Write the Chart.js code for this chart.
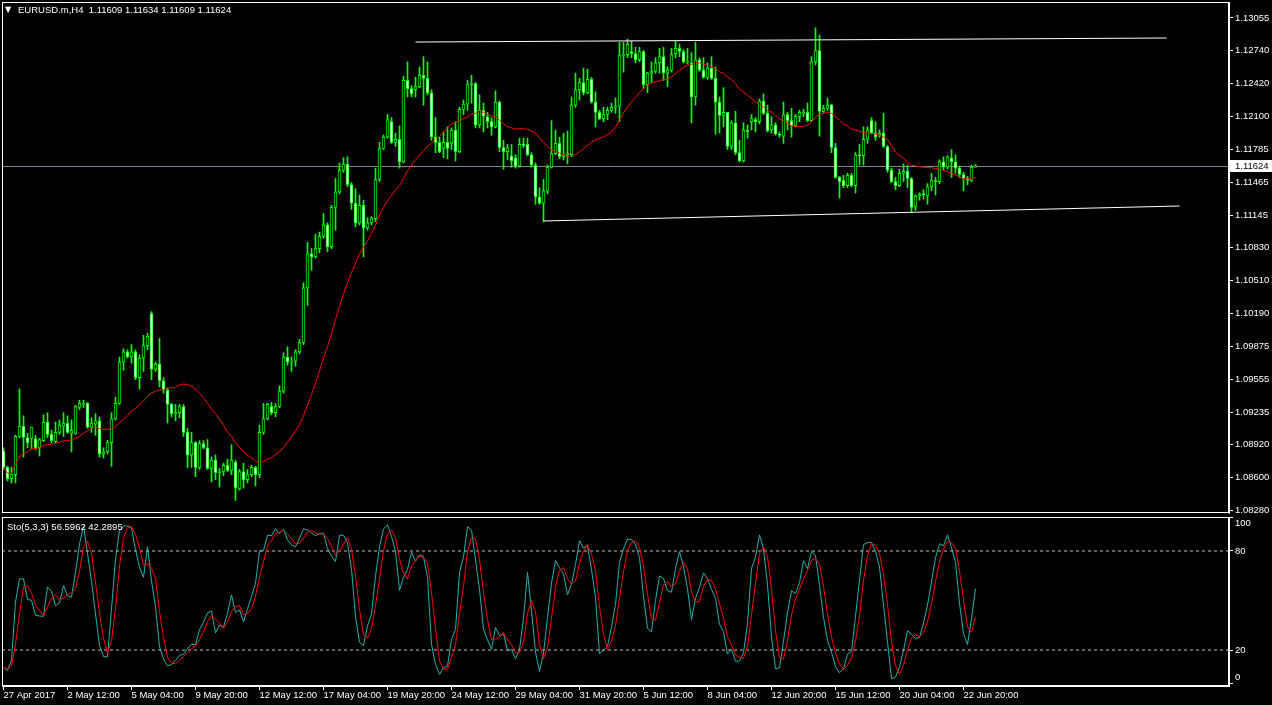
<!DOCTYPE html>
<html>
<head>
<meta charset="utf-8">
<script src="https://cdn.jsdelivr.net/npm/chart.js@4.4.0/dist/chart.umd.min.js"></script>
<style>
  body { margin: 0; background: #000; width: 1272px; height: 705px; overflow: hidden; position: relative; }
  canvas { position: absolute; left: 0; }
  #price { top: 0; }
  #sto { top: 516px; }
</style>
</head>
<body>
<canvas id="price" width="1272" height="516"></canvas>
<canvas id="sto" width="1272" height="189"></canvas>
<script>
// EURUSD.m H4 bars, 27 Apr 2017 20:00 .. 23 Jun 2017
var openPrices = [
  1.0886,1.0870,1.0859,1.0863,1.0900,1.0910,1.0899,1.0898,1.0898,1.0889,
  1.0896,1.0914,1.0902,1.0895,1.0904,1.0910,1.0913,1.0903,1.0903,1.0928,
  1.0931,1.0932,1.0909,1.0912,1.0915,1.0883,1.0885,1.0894,1.0917,1.0932,
  1.0972,1.0982,1.0977,1.0982,1.0957,1.0976,1.0988,1.1019,1.0965,1.0970,
  1.0954,1.0945,1.0931,1.0922,1.0923,1.0929,1.0904,1.0882,1.0894,1.0870,
  1.0893,1.0889,1.0869,1.0877,1.0865,1.0866,1.0872,1.0867,1.0875,1.0849,
  1.0866,1.0858,1.0863,1.0870,1.0863,1.0904,1.0917,1.0929,1.0923,1.0929,
  1.0944,1.0977,1.0972,1.0973,1.0982,1.0991,1.1044,1.1077,1.1074,1.1082,
  1.1094,1.1105,1.1084,1.1122,1.1137,1.1158,1.1164,1.1144,1.1126,1.1107,
  1.1124,1.1102,1.1107,1.1111,1.1149,1.1179,1.1190,1.1205,1.1185,1.1188,
  1.1166,1.1245,1.1237,1.1236,1.1239,1.1250,1.1247,1.1233,1.1190,1.1185,
  1.1179,1.1185,1.1184,1.1197,1.1176,1.1217,1.1222,1.1241,1.1242,1.1202,
  1.1216,1.1210,1.1205,1.1200,1.1224,1.1180,1.1176,1.1172,1.1170,1.1162,
  1.1183,1.1183,1.1173,1.1163,1.1132,1.1126,1.1138,1.1161,1.1174,1.1184,
  1.1171,1.1173,1.1173,1.1221,1.1236,1.1243,1.1233,1.1246,1.1224,1.1214,
  1.1208,1.1212,1.1216,1.1219,1.1220,1.1269,1.1270,1.1273,1.1271,1.1265,
  1.1273,1.1241,1.1252,1.1254,1.1262,1.1268,1.1252,1.1255,1.1271,1.1276,
  1.1273,1.1263,1.1262,1.1229,1.1265,1.1255,1.1248,1.1257,1.1247,1.1224,
  1.1211,1.1214,1.1181,1.1204,1.1175,1.1167,1.1197,1.1205,1.1207,1.1205,
  1.1225,1.1213,1.1197,1.1202,1.1193,1.1191,1.1212,1.1206,1.1201,1.1210,
  1.1213,1.1214,1.1206,1.1263,1.1274,1.1215,1.1218,1.1221,1.1180,1.1151,
  1.1148,1.1143,1.1153,1.1143,1.1173,1.1172,1.1188,1.1206,1.1194,1.1192,
  1.1194,1.1181,1.1158,1.1147,1.1143,1.1155,1.1157,1.1150,1.1123,1.1133,
  1.1135,1.1133,1.1142,1.1148,1.1147,1.1166,1.1161,1.1170,1.1166,1.1160,
  1.1154,1.1150,1.1148,1.11609
];
var highPrices = [
  1.0889,1.0871,1.0870,1.0901,1.0946,1.0920,1.0903,1.0909,1.0901,1.0898,
  1.0921,1.0923,1.0906,1.0914,1.0916,1.0923,1.0920,1.0916,1.0930,1.0935,
  1.0935,1.0933,1.0918,1.0922,1.0919,1.0889,1.0896,1.0923,1.0938,1.0977,
  1.0985,1.0984,1.0989,1.0984,1.0979,1.0998,1.1000,1.1021,1.0972,1.0995,
  1.0957,1.0947,1.0932,1.0931,1.0931,1.0931,1.0908,1.0904,1.0895,1.0896,
  1.0896,1.0897,1.0880,1.0882,1.0869,1.0874,1.0878,1.0892,1.0877,1.0868,
  1.0874,1.0868,1.0872,1.0871,1.0911,1.0932,1.0932,1.0933,1.0932,1.0949,
  1.0981,1.0987,1.0977,1.0984,1.0994,1.1049,1.1088,1.1082,1.1096,1.1098,
  1.1116,1.1107,1.1124,1.1150,1.1165,1.1170,1.1171,1.1146,1.1140,1.1134,
  1.1129,1.1112,1.1113,1.1160,1.1185,1.1192,1.1212,1.1209,1.1194,1.1201,
  1.1249,1.1263,1.1240,1.1248,1.1258,1.1268,1.1263,1.1236,1.1209,1.1190,
  1.1195,1.1200,1.1199,1.1205,1.1219,1.1226,1.1245,1.1250,1.1243,1.1231,
  1.1223,1.1214,1.1209,1.1235,1.1225,1.1187,1.1183,1.1183,1.1173,1.1189,
  1.1189,1.1189,1.1175,1.1165,1.1141,1.1149,1.1163,1.1206,1.1197,1.1190,
  1.1194,1.1196,1.1229,1.1252,1.1247,1.1257,1.1256,1.1248,1.1234,1.1216,
  1.1219,1.1219,1.1223,1.1228,1.1282,1.1282,1.1285,1.1283,1.1277,1.1277,
  1.1274,1.1253,1.1263,1.1267,1.1276,1.1277,1.1258,1.1276,1.1284,1.1280,
  1.1275,1.1276,1.1272,1.1282,1.1267,1.1267,1.1262,1.1268,1.1258,1.1229,
  1.1238,1.1214,1.1206,1.1215,1.1187,1.1204,1.1202,1.1212,1.1209,1.1227,
  1.1232,1.1221,1.1210,1.1204,1.1195,1.1224,1.1214,1.1218,1.1212,1.1216,
  1.1217,1.1223,1.1268,1.1296,1.1289,1.1221,1.1228,1.1222,1.1184,1.1152,
  1.1153,1.1155,1.1155,1.1175,1.1183,1.1200,1.1200,1.1209,1.1205,1.1197,
  1.1213,1.1182,1.1160,1.1151,1.1159,1.1164,1.1163,1.1151,1.1134,1.1136,
  1.1139,1.1145,1.1155,1.1151,1.1168,1.1171,1.1172,1.1178,1.1173,1.1162,
  1.1156,1.1152,1.1163,1.11634
];
var lowPrices = [
  1.0868,1.0857,1.0855,1.0855,1.0899,1.0880,1.0889,1.0888,1.0887,1.0881,
  1.0895,1.0899,1.0894,1.0894,1.0902,1.0900,1.0903,1.0885,1.0902,1.0926,
  1.0928,1.0908,1.0904,1.0901,1.0880,1.0879,1.0883,1.0871,1.0916,1.0931,
  1.0964,1.0976,1.0971,1.0955,1.0946,1.0963,1.0984,1.0955,1.0963,1.0948,
  1.0942,1.0913,1.0919,1.0915,1.0918,1.0900,1.0870,1.0870,1.0861,1.0868,
  1.0888,1.0868,1.0856,1.0858,1.0851,1.0862,1.0866,1.0863,1.0838,1.0848,
  1.0850,1.0855,1.0861,1.0852,1.0860,1.0902,1.0916,1.0921,1.0919,1.0928,
  1.0942,1.0969,1.0963,1.0968,1.0980,1.0989,1.1027,1.1061,1.1073,1.1078,
  1.1092,1.1079,1.1082,1.1100,1.1135,1.1156,1.1142,1.1120,1.1103,1.1105,
  1.1074,1.1100,1.1105,1.1108,1.1147,1.1178,1.1189,1.1184,1.1181,1.1160,
  1.1165,1.1229,1.1229,1.1229,1.1238,1.1221,1.1231,1.1187,1.1175,1.1175,
  1.1170,1.1169,1.1178,1.1167,1.1175,1.1212,1.1216,1.1223,1.1199,1.1199,
  1.1195,1.1199,1.1192,1.1199,1.1176,1.1159,1.1168,1.1161,1.1160,1.1161,
  1.1180,1.1172,1.1161,1.1125,1.1125,1.1108,1.1135,1.1160,1.1173,1.1169,
  1.1168,1.1164,1.1171,1.1219,1.1226,1.1231,1.1232,1.1223,1.1200,1.1207,
  1.1205,1.1207,1.1214,1.1213,1.1205,1.1253,1.1267,1.1267,1.1262,1.1263,
  1.1237,1.1233,1.1243,1.1252,1.1252,1.1245,1.1239,1.1253,1.1267,1.1268,
  1.1262,1.1261,1.1204,1.1221,1.1254,1.1247,1.1246,1.1246,1.1193,1.1194,
  1.1200,1.1178,1.1178,1.1173,1.1166,1.1166,1.1189,1.1197,1.1195,1.1203,
  1.1212,1.1195,1.1194,1.1192,1.1190,1.1184,1.1197,1.1190,1.1200,1.1205,
  1.1210,1.1205,1.1205,1.1260,1.1191,1.1214,1.1216,1.1175,1.1150,1.1131,
  1.1141,1.1141,1.1142,1.1136,1.1163,1.1163,1.1184,1.1193,1.1187,1.1190,
  1.1180,1.1156,1.1146,1.1139,1.1142,1.1147,1.1141,1.1117,1.1119,1.1129,
  1.1130,1.1125,1.1138,1.1134,1.1145,1.1158,1.1159,1.1151,1.1155,1.1151,
  1.1138,1.1144,1.1147,1.11609
];
var closePrices = [
  1.0870,1.0859,1.0863,1.0900,1.0910,1.0899,1.0894,1.0909,1.0889,1.0897,
  1.0914,1.0902,1.0896,1.0904,1.0911,1.0913,1.0904,1.0906,1.0929,1.0932,
  1.0932,1.0909,1.0913,1.0915,1.0883,1.0885,1.0894,1.0917,1.0932,1.0972,
  1.0982,1.0977,1.0982,1.0957,1.0976,1.0988,1.0997,1.0965,1.0970,1.0954,
  1.0945,1.0931,1.0922,1.0923,1.0929,1.0904,1.0882,1.0894,1.0870,1.0893,
  1.0889,1.0869,1.0877,1.0865,1.0866,1.0872,1.0867,1.0877,1.0850,1.0866,
  1.0858,1.0863,1.0870,1.0863,1.0904,1.0917,1.0931,1.0923,1.0929,1.0944,
  1.0977,1.0972,1.0973,1.0982,1.0991,1.1044,1.1077,1.1074,1.1082,1.1094,
  1.1105,1.1084,1.1122,1.1137,1.1158,1.1164,1.1144,1.1126,1.1107,1.1124,
  1.1102,1.1107,1.1111,1.1149,1.1179,1.1190,1.1207,1.1185,1.1188,1.1166,
  1.1245,1.1237,1.1232,1.1239,1.1250,1.1247,1.1233,1.1190,1.1185,1.1176,
  1.1185,1.1179,1.1197,1.1176,1.1217,1.1222,1.1241,1.1242,1.1202,1.1216,
  1.1210,1.1205,1.1200,1.1224,1.1180,1.1176,1.1180,1.1167,1.1162,1.1183,
  1.1182,1.1173,1.1163,1.1132,1.1126,1.1138,1.1161,1.1174,1.1184,1.1171,
  1.1173,1.1174,1.1221,1.1236,1.1243,1.1233,1.1246,1.1224,1.1214,1.1208,
  1.1212,1.1216,1.1219,1.1220,1.1269,1.1270,1.1280,1.1271,1.1265,1.1273,
  1.1241,1.1252,1.1254,1.1262,1.1268,1.1252,1.1255,1.1270,1.1276,1.1273,
  1.1263,1.1264,1.1229,1.1265,1.1255,1.1248,1.1257,1.1247,1.1224,1.1211,
  1.1214,1.1181,1.1204,1.1175,1.1167,1.1197,1.1195,1.1208,1.1205,1.1225,
  1.1213,1.1196,1.1202,1.1193,1.1192,1.1212,1.1206,1.1201,1.1210,1.1214,
  1.1214,1.1206,1.1263,1.1274,1.1215,1.1218,1.1221,1.1180,1.1151,1.1147,
  1.1143,1.1153,1.1143,1.1173,1.1172,1.1188,1.1197,1.1194,1.1190,1.1194,
  1.1181,1.1158,1.1147,1.1143,1.1155,1.1157,1.1150,1.1122,1.1133,1.1135,
  1.1134,1.1142,1.1148,1.1147,1.1166,1.1161,1.1171,1.1166,1.1160,1.1154,
  1.1150,1.1148,1.1161,1.11624
];

var tickBars = [0,16,32,48,64,80,96,112,128,144,160,176,192,208,224,240];
var tickLabels = ["27 Apr 2017","2 May 12:00","5 May 04:00","9 May 20:00","12 May 12:00",
  "17 May 04:00","19 May 20:00","24 May 12:00","29 May 04:00","31 May 20:00","5 Jun 12:00",
  "8 Jun 04:00","12 Jun 20:00","15 Jun 12:00","20 Jun 04:00","22 Jun 20:00"];
var priceTicks = [1.13055,1.12740,1.12420,1.12100,1.11785,1.11465,1.11145,1.10830,
  1.10510,1.10190,1.09875,1.09555,1.09235,1.08920,1.08600,1.08280];
var stoTicks = [0,20,80,100];
var stoLevels = [20,80];

// hand drawn trend lines: [bar, price]
var upperTrend = [[103,1.12822],[290.75,1.12861]];
var lowerTrend = [[135,1.11088],[294,1.11233]];

var titleText = "EURUSD.m,H4  1.11609 1.11634 1.11609 1.11624";
var stoText = "Sto(5,3,3) 56.5962 42.2895";

var LIME = '#00ff00';
var FONT = { family: 'Liberation Sans', size: 9.5 };
var xMin = -0.375, xMax = 306.375;
Chart.defaults.color = '#ffffff';
Chart.defaults.font.family = FONT.family;
Chart.defaults.font.size = FONT.size;

function sma(arr, n) {
  return arr.map(function(v, i) {
    var s = 0, c = 0;
    for (var j = Math.max(0, i - n + 1); j <= i; j++) { s += arr[j]; c++; }
    return s / c;
  });
}

function stochastic(kp, slow, dp) {
  var num = [], den = [];
  for (var i = 0; i < closePrices.length; i++) {
    var hh = -Infinity, ll = Infinity;
    for (var j = Math.max(0, i - kp + 1); j <= i; j++) {
      hh = Math.max(hh, highPrices[j]);
      ll = Math.min(ll, lowPrices[j]);
    }
    num.push(closePrices[i] - ll);
    den.push(hh - ll);
  }
  var k = num.map(function(_, i) {
    var a = 0, b = 0;
    for (var j = Math.max(0, i - slow + 1); j <= i; j++) { a += num[j]; b += den[j]; }
    return b ? a / b * 100 : 50;
  });
  return { k: k, d: sma(k, dp) };
}

function xy(arr) { return arr.map(function(v, i) { return { x: i, y: v }; }); }
function seg(p) { return p.map(function(q) { return { x: q[0], y: q[1] }; }); }

var bodies = openPrices.map(function(o, i) { return { x: i, y: [o, closePrices[i]] }; });
var wicks = lowPrices.map(function(l, i) { return { x: i, y: [l, highPrices[i]] }; });
var bodyFill = openPrices.map(function(o, i) { return closePrices[i] >= o ? '#000000' : '#ffffff'; });
var ma = sma(closePrices, 20);
var sto = stochastic(5, 3, 3);
var lastClose = closePrices[closePrices.length - 1];

var paneBorder = {
  id: 'paneBorder',
  afterDraw: function(chart) {
    var a = chart.chartArea, ctx = chart.ctx;
    ctx.save();
    ctx.strokeStyle = '#ffffff';
    ctx.lineWidth = 1;
    ctx.strokeRect(a.left + 0.5, a.top + 0.5, a.right - a.left - 1, a.bottom - a.top - 1);
    ctx.restore();
  }
};

var priceExtras = {
  id: 'priceExtras',
  beforeDatasetsDraw: function(chart) {
    var a = chart.chartArea, ctx = chart.ctx;
    var py = Math.round(chart.scales.y.getPixelForValue(lastClose)) + 0.5;
    ctx.save();
    ctx.strokeStyle = '#778899';
    ctx.lineWidth = 1;
    ctx.beginPath();
    ctx.moveTo(a.left, py);
    ctx.lineTo(a.right, py);
    ctx.stroke();
    ctx.restore();
  },
  afterDraw: function(chart) {
    var a = chart.chartArea, ctx = chart.ctx;
    var py = Math.round(chart.scales.y.getPixelForValue(lastClose));
    ctx.save();
    ctx.fillStyle = '#ffffff';
    ctx.fillRect(a.right + 1, py - 6, 1272 - a.right - 1, 12);
    ctx.fillStyle = '#000000';
    ctx.font = FONT.size + 'px "' + FONT.family + '"';
    ctx.textBaseline = 'middle';
    ctx.fillText(lastClose.toFixed(5), a.right + 6, py + 0.5);
    ctx.fillStyle = '#ffffff';
    ctx.fillText(titleText, 18, 10);
    ctx.font = '8px "DejaVu Sans"';
    ctx.fillText('\u25BC', 5, 10);
    ctx.restore();
  }
};

var stoExtras = {
  id: 'stoExtras',
  afterDraw: function(chart) {
    var ctx = chart.ctx;
    ctx.save();
    ctx.fillStyle = '#ffffff';
    ctx.font = FONT.size + 'px "' + FONT.family + '"';
    ctx.textBaseline = 'middle';
    ctx.fillText(stoText, 7, 11);
    ctx.restore();
  }
};

function fitY(scale) {
  scale.width = 43;
  scale.paddingTop = 0;
  scale.paddingBottom = 0;
}

new Chart(document.getElementById('price'), {
  type: 'bar',
  data: {
    datasets: [
      { type: 'line', data: xy(ma), borderColor: '#ff0000', borderWidth: 1, pointRadius: 0, order: 0 },
      { type: 'line', data: seg(upperTrend), borderColor: '#ffffff', borderWidth: 1, pointRadius: 0, order: 0 },
      { type: 'line', data: seg(lowerTrend), borderColor: '#ffffff', borderWidth: 1, pointRadius: 0, order: 0 },
      { data: bodies, backgroundColor: bodyFill, borderColor: LIME, borderWidth: 1, borderSkipped: false,
        barThickness: 3, grouped: false, order: 1 },
      { data: wicks, backgroundColor: LIME, borderWidth: 0, barThickness: 1, grouped: false, order: 2 }
    ]
  },
  options: {
    responsive: false,
    animation: false,
    devicePixelRatio: 1,
    layout: { padding: { left: 2, top: 2, right: 0, bottom: 3 } },
    plugins: { legend: { display: false }, tooltip: { enabled: false } },
    scales: {
      x: { type: 'linear', min: xMin, max: xMax, display: false, offset: false, grid: { offset: false } },
      y: {
        type: 'linear', position: 'right', min: 1.08258, max: 1.13210,
        afterBuildTicks: function(scale) { scale.ticks = priceTicks.map(function(v) { return { value: v }; }); },
        afterFit: fitY,
        ticks: { color: '#ffffff', padding: 2, font: FONT, callback: function(v) { return v.toFixed(5); } },
        grid: { drawOnChartArea: false, color: '#ffffff', tickLength: 4 },
        border: { display: true, color: '#ffffff' }
      }
    }
  },
  plugins: [priceExtras, paneBorder]
});

var levelSets = stoLevels.map(function(v) {
  return { data: [{ x: xMin, y: v }, { x: xMax, y: v }], borderColor: '#c0c0c0', borderWidth: 1,
    borderDash: [3, 3], pointRadius: 0 };
});

new Chart(document.getElementById('sto'), {
  type: 'line',
  data: {
    datasets: [
      { data: xy(sto.k), borderColor: '#20b2aa', borderWidth: 1, pointRadius: 0, order: 1 },
      { data: xy(sto.d), borderColor: '#ff0000', borderWidth: 1, pointRadius: 0, order: 0 }
    ].concat(levelSets)
  },
  options: {
    responsive: false,
    animation: false,
    devicePixelRatio: 1,
    layout: { padding: { left: 2, top: 1, right: 0, bottom: 0 } },
    plugins: { legend: { display: false }, tooltip: { enabled: false } },
    scales: {
      x: {
        type: 'linear', min: xMin, max: xMax, offset: false,
        afterBuildTicks: function(scale) { scale.ticks = tickBars.map(function(v) { return { value: v }; }); },
        afterFit: function(scale) { scale.height = 19; scale.paddingLeft = 0; scale.paddingRight = 0; },
        ticks: { color: '#ffffff', align: 'start', padding: 0, autoSkip: false, maxRotation: 0, font: FONT,
          callback: function(v, i) { return tickLabels[i]; } },
        grid: { drawOnChartArea: false, color: '#ffffff', tickLength: 4, offset: false },
        border: { display: true, color: '#ffffff' }
      },
      y: {
        type: 'linear', position: 'right', min: -1.8, max: 100.6,
        afterBuildTicks: function(scale) { scale.ticks = stoTicks.map(function(v) { return { value: v }; }); },
        afterFit: fitY,
        ticks: { color: '#ffffff', padding: 2, font: FONT,
          callback: function(v) {
            if (v === 100) return ['', '100'];
            if (v === 0) return ['0', ''];
            return String(v);
          } },
        grid: { drawOnChartArea: false, color: '#ffffff', tickLength: 4 },
        border: { display: true, color: '#ffffff' }
      }
    }
  },
  plugins: [stoExtras, paneBorder]
});
</script>
</body>
</html>
